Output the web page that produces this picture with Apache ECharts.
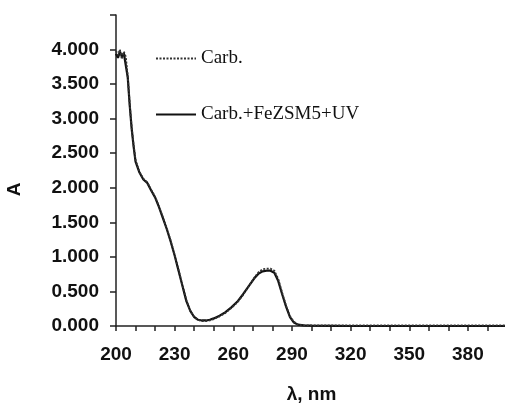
<!DOCTYPE html>
<html>
<head>
<meta charset="utf-8">
<script src="https://cdn.jsdelivr.net/npm/echarts@6/dist/echarts.min.js"></script>
<style>
    html, body { margin: 0; padding: 0; background: #fff; }
    #chart { width: 505px; height: 403px; }
</style>
</head>
<body>
<div id="chart"></div>
<script>
/* UV-Vis spectra, values */

var seriesNames = ['Carb.', 'Carb.+FeZSM5+UV'];

// wavelength, nm
var wavelength = [200, 201, 202, 203, 204, 205, 206, 207, 208, 209, 210, 212, 214, 216, 218, 220,
    222, 224, 226, 228, 230, 232, 234, 236, 238, 240, 242, 244, 246, 248, 250, 253, 256, 259,
    262, 265, 268, 271, 273, 275, 277, 279, 281, 283, 285, 287, 289, 291, 293, 296, 300, 320,
    350, 380, 400];

// absorbance of carb. (dotted)
var carb = [3.98, 3.92, 4.00, 3.86, 3.97, 3.90, 3.62, 3.22, 2.88, 2.62, 2.40, 2.23, 2.13, 2.08,
    1.97, 1.87, 1.73, 1.57, 1.41, 1.23, 1.03, 0.81, 0.59, 0.37, 0.22, 0.13, 0.09, 0.07, 0.07,
    0.08, 0.10, 0.14, 0.19, 0.26, 0.34, 0.45, 0.58, 0.71, 0.78, 0.82, 0.83, 0.83, 0.80, 0.68,
    0.48, 0.29, 0.14, 0.06, 0.02, 0.01, 0.01, 0.01, 0.01, 0.01, 0.01];

// absorbance after FeZSM5 + UV (solid)
var treated = [3.94, 3.88, 3.97, 3.90, 3.95, 3.93, 3.60, 3.20, 2.86, 2.60, 2.38, 2.22, 2.12,
    2.07, 1.96, 1.86, 1.72, 1.56, 1.40, 1.22, 1.02, 0.80, 0.58, 0.36, 0.22, 0.13, 0.09, 0.08,
    0.08, 0.09, 0.11, 0.15, 0.20, 0.27, 0.35, 0.46, 0.58, 0.70, 0.76, 0.79, 0.80, 0.80, 0.77,
    0.65, 0.46, 0.28, 0.13, 0.05, 0.02, 0.01, 0.005, 0, 0, 0, 0];

var pairs = function (ys) {
    return wavelength.map(function (x, i) { return [x, ys[i]]; });
};

var chart = echarts.init(document.getElementById('chart'));

var axisFont = {
    fontFamily: 'Liberation Sans, Arial, sans-serif',
    fontWeight: 'bold',
    fontSize: 19,
    color: '#111'
};

chart.setOption({
    animation: false,
    backgroundColor: '#fff',
    grid: { left: 116, right: -2, top: 15, bottom: 77, outerBoundsMode: 'none' },
    legend: {
        show: true,
        orient: 'vertical',
        left: 150,
        top: 44,
        itemGap: 37,
        itemWidth: 40,
        itemHeight: 14,
        itemStyle: { color: 'transparent', borderWidth: 0 },
        textStyle: {
            fontFamily: 'Liberation Serif, Times New Roman, serif',
            fontSize: 19,
            color: '#111'
        },
        data: seriesNames
    },
    xAxis: {
        type: 'value',
        min: 200,
        max: 400,
        interval: 10,
        name: 'λ, nm',
        nameLocation: 'middle',
        nameGap: 59,
        nameTextStyle: axisFont,
        axisLine: { lineStyle: { color: '#222', width: 1.5 } },
        axisTick: { show: true, length: 5, lineStyle: { color: '#222', width: 1.5 } },
        axisLabel: Object.assign({
            margin: 19,
            formatter: function (v) { return (v - 200) % 30 === 0 && v < 400 ? String(v) : ''; }
        }, axisFont),
        splitLine: { show: false }
    },
    yAxis: {
        type: 'value',
        min: 0,
        max: 4.5,
        interval: 0.5,
        name: 'A',
        nameLocation: 'middle',
        nameGap: 92,
        nameTextStyle: Object.assign({ padding: [0, 38, 0, 0] }, axisFont),
        axisLine: { show: true, lineStyle: { color: '#222', width: 1.5 } },
        axisTick: { show: true, length: 6, lineStyle: { color: '#222', width: 1.5 } },
        axisLabel: Object.assign({
            margin: 17,
            formatter: function (v) { return v > 4.2 ? '' : v.toFixed(3); }
        }, axisFont),
        splitLine: { show: false }
    },
    series: [
        {
            name: seriesNames[0],
            type: 'line',
            symbol: 'none',
            z: 3,
            data: pairs(carb),
            lineStyle: { color: '#333', width: 1.8, type: [2, 1.5] },
            itemStyle: { color: '#333' }
        },
        {
            name: seriesNames[1],
            type: 'line',
            symbol: 'none',
            z: 2,
            data: pairs(treated),
            lineStyle: { color: '#111', width: 2.2 },
            itemStyle: { color: '#111' }
        }
    ]
});
</script>
</body>
</html>
